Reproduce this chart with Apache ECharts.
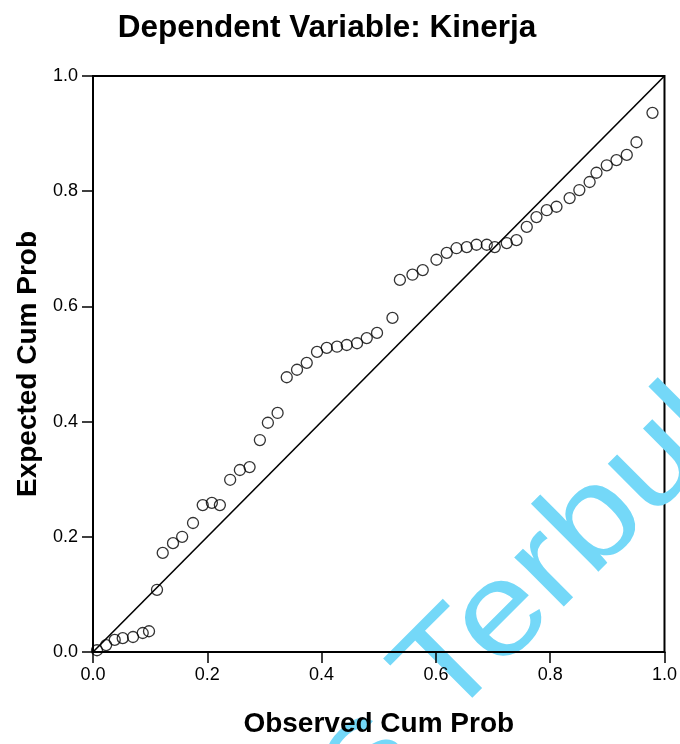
<!DOCTYPE html>
<html>
<head>
<meta charset="utf-8">
<title>Normal P-P Plot - Kinerja</title>
<script src="https://cdn.jsdelivr.net/npm/echarts@6/dist/echarts.min.js"></script>
<style>
  html, body { margin: 0; padding: 0; background: #fff; }
  #chart { width: 680px; height: 744px; }
</style>
</head>
<body>
<div id="chart"></div>
<script>
// observed vs expected cumulative probability
const observed = [
  0.007, 0.023, 0.038, 0.052, 0.070, 0.087, 0.098, 0.112, 0.122, 0.140,
  0.156, 0.175, 0.192, 0.208, 0.222, 0.240, 0.257, 0.274, 0.292, 0.306,
  0.323, 0.339, 0.357, 0.374, 0.392, 0.409, 0.427, 0.444, 0.462, 0.479,
  0.497, 0.524, 0.537, 0.559, 0.577, 0.601, 0.619, 0.636, 0.654, 0.671,
  0.689, 0.703, 0.724, 0.741, 0.759, 0.776, 0.794, 0.811, 0.834, 0.851,
  0.869, 0.881, 0.899, 0.916, 0.934, 0.951, 0.979
]
const expected = [
  0.003, 0.012, 0.021, 0.024, 0.026, 0.033, 0.036, 0.108, 0.172, 0.189,
  0.200, 0.224, 0.255, 0.259, 0.255, 0.299, 0.316, 0.321, 0.368, 0.398,
  0.415, 0.477, 0.490, 0.502, 0.521, 0.528, 0.530, 0.533, 0.536, 0.545,
  0.554, 0.580, 0.646, 0.655, 0.663, 0.681, 0.693, 0.701, 0.703, 0.707,
  0.707, 0.703, 0.710, 0.715, 0.738, 0.755, 0.767, 0.773, 0.788, 0.802,
  0.816, 0.832, 0.845, 0.854, 0.863, 0.885, 0.936
]
const diagonal = [[0, 0], [1, 1]]

const chart = echarts.init(document.getElementById('chart'))

const axisCommon = {
  type: 'value',
  min: 0,
  max: 1,
  interval: 0.2,
  axisLine: { show: true, lineStyle: { color: '#000', width: 2 } },
  axisTick: { show: true, inside: false, length: 11, lineStyle: { color: '#000', width: 1.5 } },
  axisLabel: {
    color: '#000',
    fontFamily: 'Liberation Sans',
    fontSize: 18,
    margin: 15,
    formatter: v => v.toFixed(1)
  },
  splitLine: { show: false },
  nameLocation: 'middle',
  nameTextStyle: {
    color: '#000',
    fontFamily: 'Liberation Sans',
    fontWeight: 'bold',
    fontSize: 28
  }
}

// watermark from the scanned page
const markStyle = {
  fill: '#74d8f8',
  fontFamily: 'Liberation Sans',
  fontSize: 132,
  verticalAlign: 'bottom'
}

const option = {
  backgroundColor: '#fff',
  animation: false,
  title: {
    text: 'Dependent Variable: Kinerja',
    left: 322,
    top: 7,
    textAlign: 'center',
    textStyle: {
      color: '#000',
      fontFamily: 'Liberation Sans',
      fontWeight: 'bold',
      fontSize: 31.5
    }
  },
  grid: {
    left: 93,
    right: 15,
    top: 76,
    bottom: 92,
    show: true,
    borderColor: '#000',
    borderWidth: 2
  },
  xAxis: Object.assign({}, axisCommon, {
    name: 'Observed Cum Prob',
    nameGap: 58,
    axisLabel: Object.assign({}, axisCommon.axisLabel, { margin: 14 })
  }),
  yAxis: Object.assign({}, axisCommon, {
    name: 'Expected Cum Prob',
    nameGap: 50
  }),
  series: [
    {
      type: 'line',
      data: diagonal,
      showSymbol: false,
      lineStyle: { color: '#000', width: 1.6 },
      silent: true
    },
    {
      type: 'scatter',
      data: observed.map((x, i) => [x, expected[i]]),
      symbol: 'circle',
      symbolSize: 11,
      itemStyle: {
        color: 'rgba(0,0,0,0)',
        borderColor: '#000',
        borderWidth: 1.3
      }
    }
  ],
  graphic: [
    {
      type: 'group',
      x: 466,
      y: 746,
      rotation: Math.PI / 4,
      scaleX: 1.13,
      z: 100,
      silent: true,
      children: [
        { type: 'text', style: Object.assign({ text: 'Terbuka', align: 'left' }, markStyle) },
        { type: 'text', style: Object.assign({ text: 'Universitas ', align: 'right' }, markStyle) }
      ]
    }
  ]
}

chart.setOption(option)
</script>
</body>
</html>
